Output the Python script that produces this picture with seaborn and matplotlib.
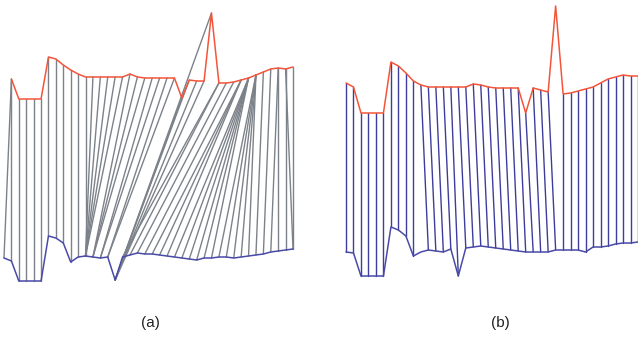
import numpy as np
import pandas as pd
import matplotlib
matplotlib.use("Agg")
import matplotlib.pyplot as plt
import seaborn as sns

# panel (a): top series (red) starts one step later than the bottom series (blue)
top_a = [221, 201, 201, 201, 201, 243, 241, 235, 230, 226, 223, 223, 223, 223, 223, 223,
         226, 223, 222, 222, 222, 222, 222, 202, 220, 219, 219, 287, 217, 217, 218, 220,
         222, 225, 228, 231, 232, 231, 233]
bot_a = [42, 39, 19, 19, 19, 19, 64, 62, 57, 38, 43, 44, 43, 42, 43, 20, 43, 45, 47, 46,
         46, 45, 44, 43, 42, 41, 40, 42, 42, 43, 43, 42, 43, 44, 45, 46, 48, 49, 50, 51]
top_a_start = 1

# alignment of panel (a): top index -> bottom index
link_a_top = [0, 0, 1, 2, 3, 4, 5, 6, 7, 8, 9, 10, 11, 12, 13, 14, 15, 16, 17, 18, 19, 20,
              21, 22, 23, 24, 25, 26, 27, 28, 28, 29, 30, 31, 31, 31, 32, 32, 32, 32, 32, 32,
              33, 33, 33, 33, 33, 34, 35, 36, 36, 37, 37, 38]
link_a_bot = [0, 1, 2, 3, 4, 5, 6, 7, 8, 9, 10, 11, 11, 11, 11, 11, 11, 12, 12, 12, 13, 13,
              14, 14, 15, 15, 15, 15, 15, 16, 17, 18, 19, 20, 21, 22, 23, 24, 25, 26, 27, 28,
              29, 30, 31, 32, 33, 34, 35, 36, 37, 38, 39, 39]

# panel (b)
top_b = [217, 213, 187, 187, 187, 187, 238, 234, 227, 219, 215, 213, 213, 213, 213, 213,
         213, 216, 215, 213, 212, 212, 212, 212, 187, 212, 210, 208, 294, 206, 207, 209,
         211, 213, 217, 221, 223, 225, 224, 224]
bot_b = [48, 47, 24, 24, 24, 24, 73, 70, 64, 44, 48, 50, 49, 48, 51, 24, 52, 53, 54, 53,
         52, 51, 50, 49, 48, 48, 48, 48, 50, 50, 50, 50, 48, 53, 53, 54, 56, 57, 57, 58]

link_b_top = list(range(0, 28)) + list(range(29, 40))
link_b_bot = list(range(0, 10)) + list(range(11, 29)) + list(range(29, 40))

labels = ["(a)", "(b)"]

c_top = "#f4553a"
c_bot = "#4a4aa8"
c_link_a = "#7c8289"
c_link_b = "#3d3d9c"


def link_frame(top, bot, top_start, l_top, l_bot):
    rows = []
    for n, (i, j) in enumerate(zip(l_top, l_bot)):
        rows.append({"link": n, "t": i + top_start, "h": top[i]})
        rows.append({"link": n, "t": j, "h": bot[j]})
    return pd.DataFrame(rows)


def draw_panel(ax, top, bot, top_start, l_top, l_bot, c_link):
    df_links = link_frame(top, bot, top_start, l_top, l_bot)
    sns.lineplot(data=df_links, x="t", y="h", units="link", estimator=None, sort=False,
                 color=c_link, lw=1.0, ax=ax, legend=False, zorder=1)
    sns.lineplot(x=np.arange(len(top)) + top_start, y=top, estimator=None, sort=False,
                 color=c_top, lw=1.1, ax=ax, zorder=3)
    sns.lineplot(x=np.arange(len(bot)), y=bot, estimator=None, sort=False,
                 color=c_bot, lw=1.1, ax=ax, zorder=3)
    ax.set_xlim(0, max(len(top) + top_start, len(bot)) - 1)
    ax.set_ylim(0, 300)
    ax.axis("off")
    for ln in ax.lines:
        ln.set_clip_on(False)


sns.set_style("white")
fig = plt.figure(figsize=(6.38, 3.40), dpi=100)

ax_a = fig.add_axes([4 / 638, 40 / 340, 289 / 638, 300 / 340])
draw_panel(ax_a, top_a, bot_a, top_a_start, link_a_top, link_a_bot, c_link_a)

ax_b = fig.add_axes([346 / 638, 40 / 340, 292 / 638, 300 / 340])
draw_panel(ax_b, top_b, bot_b, 0, link_b_top, link_b_bot, c_link_b)

for xc, lab in zip([150, 500], labels):
    fig.text(xc / 638, 1 - 323 / 340, lab, ha="center", va="center",
             fontsize=11, family="Liberation Sans", color="#222222")

fig.savefig("out.png", dpi=100)
